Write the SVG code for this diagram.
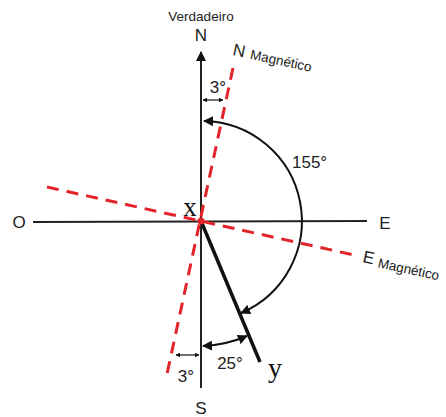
<svg xmlns="http://www.w3.org/2000/svg" width="446" height="417" viewBox="0 0 446 417">
<style>
.ax{stroke:#222;stroke-width:2;fill:none}
.mag{stroke:#e3242b;stroke-width:3;stroke-dasharray:12 8;fill:none}
.arc{stroke:#111;stroke-width:2;fill:none}
.t{font-family:"Liberation Sans",Arial,sans-serif;fill:#222}
.s{font-family:"Liberation Serif","Times New Roman",serif;fill:#111}
</style>
<defs>
<marker id="ah" viewBox="0 0 10 10" refX="9" refY="5" markerWidth="5" markerHeight="5" orient="auto-start-reverse">
<path d="M0,0 L10,5 L0,10 z" fill="#111"/>
</marker>
<marker id="sm" viewBox="0 0 10 10" refX="9" refY="5" markerWidth="4" markerHeight="4" orient="auto-start-reverse">
<path d="M0,0 L10,5 L0,10 z" fill="#111"/>
</marker>
</defs>
<g id="connectors">
<line class="ax" x1="201" y1="388" x2="201" y2="52" marker-end="url(#ah)"/>
<line class="ax" x1="33" y1="222" x2="367" y2="221"/>
<line class="mag" x1="233" y1="68" x2="167" y2="374"/>
<line class="mag" x1="47" y1="187" x2="354" y2="255"/>
<line stroke="#111" stroke-width="3.5" x1="201" y1="221" x2="260" y2="362"/>
<path class="arc" d="M241,313 A100,100 0 0 0 204,121" marker-start="url(#ah)" marker-end="url(#ah)"/>
<path class="arc" d="M203,346 A125,125 0 0 0 247,336" marker-start="url(#ah)" marker-end="url(#ah)"/>
<line stroke="#111" stroke-width="1.2" x1="203" y1="100" x2="223" y2="100" marker-start="url(#sm)" marker-end="url(#sm)"/>
<line stroke="#111" stroke-width="1.2" x1="176" y1="355" x2="199" y2="355" marker-start="url(#sm)" marker-end="url(#sm)"/>
<circle cx="201" cy="221" r="3.5" fill="#e3242b"/>
</g>
<g id="labels">
<text class="t" x="201" y="21" font-size="13.5" text-anchor="middle">Verdadeiro</text>
<text class="t" x="201" y="41" font-size="17" text-anchor="middle">N</text>
<g transform="translate(232,55) rotate(12)">
<text class="t" x="0" y="0" font-size="17">N</text>
<text class="t" x="18" y="0" font-size="13.5">Magnético</text>
</g>
<text class="t" x="218" y="93" font-size="17" text-anchor="middle">3°</text>
<text class="t" x="292" y="168" font-size="17">155°</text>
<text class="t" x="19" y="228" font-size="17" text-anchor="middle">O</text>
<text class="t" x="385" y="229" font-size="17" text-anchor="middle">E</text>
<g transform="translate(362,262) rotate(12)">
<text class="t" x="0" y="0" font-size="17">E</text>
<text class="t" x="16" y="2" font-size="13.5">Magnético</text>
</g>
<text class="s" x="190" y="216" font-size="27" text-anchor="middle">x</text>
<text class="s" x="275" y="377" font-size="28" text-anchor="middle">y</text>
<text class="t" x="230" y="369" font-size="17" text-anchor="middle">25°</text>
<text class="t" x="186" y="382" font-size="17" text-anchor="middle">3°</text>
<text class="t" x="201" y="414" font-size="17" text-anchor="middle">S</text>
</g>
</svg>
